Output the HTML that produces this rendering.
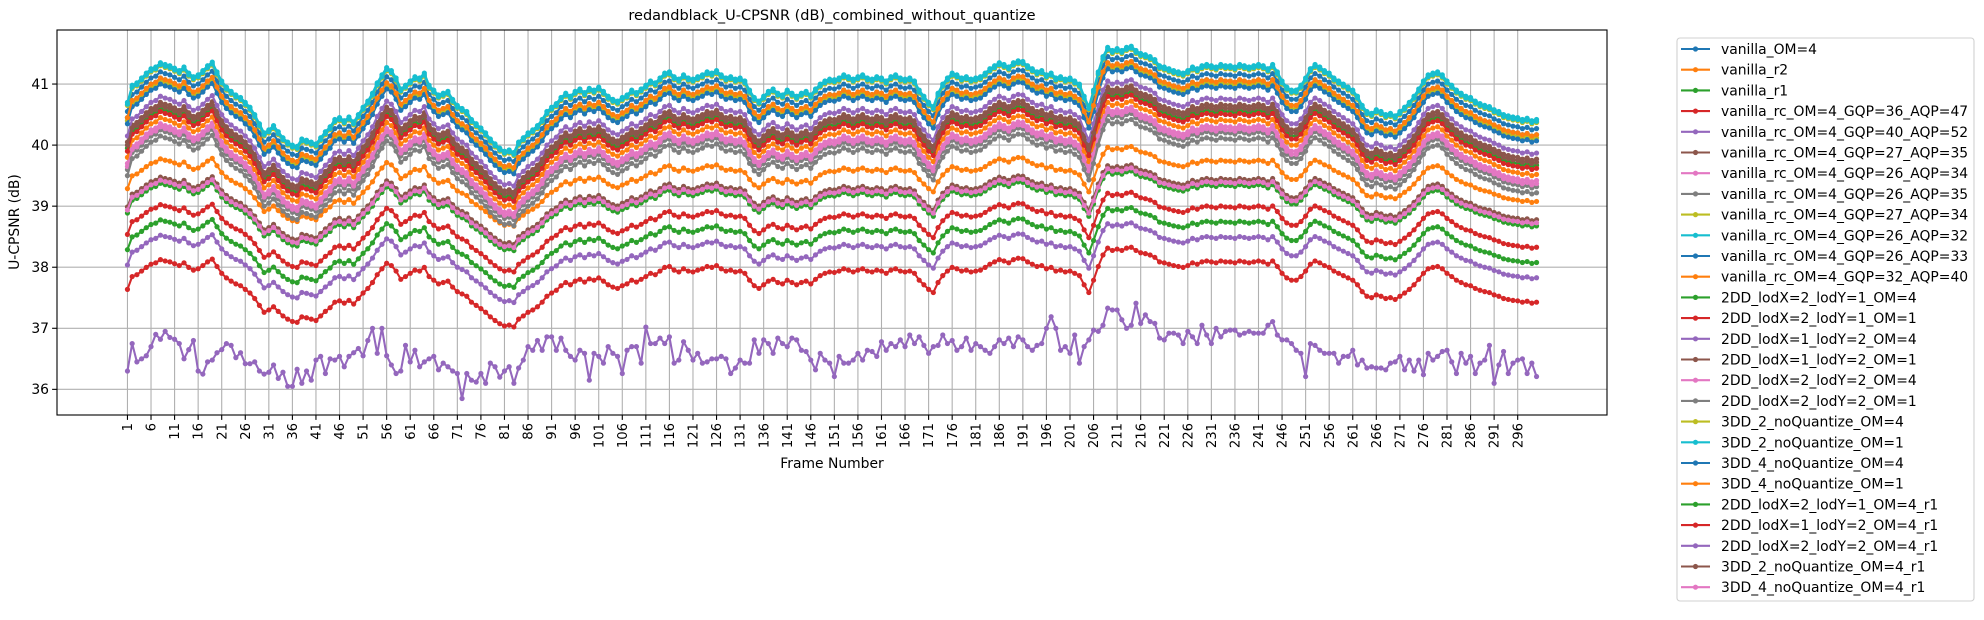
<!DOCTYPE html>
<html><head><meta charset="utf-8">
<style>
html,body{margin:0;padding:0;background:#fff;}
svg{display:block;font-family:"DejaVu Sans","Liberation Sans",sans-serif;}
</style></head>
<body>
<svg id="chart" width="1984" height="620" viewBox="0 0 1984 620" xmlns="http://www.w3.org/2000/svg">
<rect x="0" y="0" width="1984" height="620" fill="#fff"/>
<text x="832" y="20" text-anchor="middle" font-size="14.5" fill="#000">redandblack_U-CPSNR (dB)_combined_without_quantize</text>
<g id="grid"></g>
<g id="series"></g>
<rect x="57" y="30" width="1550" height="385" fill="none" stroke="#000" stroke-width="1.1"/>
<g id="axes"></g>
<text x="832" y="468" text-anchor="middle" font-size="13.9" fill="#000">Frame Number</text>
<text transform="translate(19,222) rotate(-90)" text-anchor="middle" font-size="13.9" fill="#000">U-CPSNR (dB)</text>
<g id="legend"></g>
</svg>
<script>
// ---- data ----
const seriesNames = ["vanilla_OM=4","vanilla_r2","vanilla_r1","vanilla_rc_OM=4_GQP=36_AQP=47","vanilla_rc_OM=4_GQP=40_AQP=52","vanilla_rc_OM=4_GQP=27_AQP=35","vanilla_rc_OM=4_GQP=26_AQP=34","vanilla_rc_OM=4_GQP=26_AQP=35","vanilla_rc_OM=4_GQP=27_AQP=34","vanilla_rc_OM=4_GQP=26_AQP=32","vanilla_rc_OM=4_GQP=26_AQP=33","vanilla_rc_OM=4_GQP=32_AQP=40","2DD_lodX=2_lodY=1_OM=4","2DD_lodX=2_lodY=1_OM=1","2DD_lodX=1_lodY=2_OM=4","2DD_lodX=1_lodY=2_OM=1","2DD_lodX=2_lodY=2_OM=4","2DD_lodX=2_lodY=2_OM=1","3DD_2_noQuantize_OM=4","3DD_2_noQuantize_OM=1","3DD_4_noQuantize_OM=4","3DD_4_noQuantize_OM=1","2DD_lodX=2_lodY=1_OM=4_r1","2DD_lodX=1_lodY=2_OM=4_r1","2DD_lodX=2_lodY=2_OM=4_r1","3DD_2_noQuantize_OM=4_r1","3DD_4_noQuantize_OM=4_r1"];
// reference profile (top series, dB per frame)
const topProfile = [
40.70,40.98,41.02,41.10,41.18,41.25,41.28,41.35,41.32,41.30,
41.26,41.22,41.28,41.18,41.12,41.15,41.22,41.30,41.36,41.20,
41.05,40.95,40.88,40.82,40.78,40.70,40.62,40.50,40.35,40.20,
40.25,40.32,40.22,40.12,40.05,40.00,39.98,40.10,40.08,40.05,
40.02,40.12,40.22,40.30,40.42,40.45,40.40,40.46,40.38,40.50,
40.62,40.72,40.85,41.02,41.15,41.27,41.22,41.10,40.92,40.98,
41.05,41.12,41.10,41.18,40.98,40.90,40.82,40.85,40.88,40.75,
40.65,40.60,40.55,40.42,40.35,40.28,40.20,40.10,40.02,39.95,
39.90,39.92,39.88,40.05,40.12,40.20,40.25,40.32,40.42,40.55,
40.62,40.68,40.78,40.85,40.80,40.88,40.92,40.86,40.93,40.90,
40.95,40.88,40.80,40.75,40.72,40.78,40.82,40.90,40.86,40.92,
40.98,41.05,41.02,41.10,41.18,41.20,41.12,41.08,41.15,41.10,
41.08,41.12,41.15,41.20,41.18,41.22,41.15,41.10,41.12,41.08,
41.10,41.05,40.90,40.78,40.72,40.80,40.88,40.92,40.85,40.82,
40.90,40.85,40.80,40.85,40.88,40.82,40.92,41.00,41.05,41.08,
41.07,41.10,41.15,41.12,41.08,41.12,41.15,41.10,41.08,41.12,
41.10,41.05,41.12,41.15,41.10,41.08,41.10,41.05,40.90,40.80,
40.70,40.63,40.85,41.00,41.10,41.18,41.15,41.10,41.12,41.08,
41.10,41.12,41.18,41.25,41.30,41.35,41.32,41.28,41.35,41.38,
41.37,41.30,41.25,41.20,41.22,41.15,41.18,41.10,41.12,41.08,
41.10,41.05,41.00,40.80,40.63,40.90,41.20,41.45,41.60,41.55,
41.58,41.55,41.60,41.62,41.55,41.50,41.48,41.45,41.40,41.30,
41.28,41.25,41.22,41.20,41.18,41.22,41.28,41.25,41.30,41.32,
41.30,41.28,41.32,41.30,41.30,41.28,41.32,41.30,41.28,41.30,
41.32,41.30,41.25,41.32,41.20,41.05,40.95,40.90,40.90,40.98,
41.10,41.25,41.32,41.28,41.22,41.18,41.10,41.05,41.00,40.95,
40.90,40.80,40.65,40.55,40.52,40.58,40.55,40.50,40.52,40.48,
40.55,40.62,40.70,40.80,40.92,41.05,41.15,41.18,41.20,41.15,
41.05,40.98,40.90,40.85,40.80,40.78,40.72,40.68,40.65,40.63,
40.58,40.55,40.50,40.48,40.46,40.45,40.42,40.44,40.40,40.42];
// offsets of each series from the profile (dB); null = has its own array
const seriesOffsets = [-0.15,-1.45,-2.45,-3.1,null,-0.65,-1.0,-1.1,-0.05,0,-0.25,-0.9,-0.75,-0.8,-0.55,-0.7,-1.05,-1.2,-0.3,-0.03,-0.35,-0.25,-1.85,-2.2,-2.7,-1.75,-1.8];
// amplitude of each series' swings relative to the profile
const seriesScale = [1,0.75,0.75,0.75,1,1,1,1,1,1,1,1,1,1,1,1,1,1,1,1,1,1,0.75,0.75,0.75,0.75,0.75];
const profileMean = 40.85;
// lowest series (vanilla_rc_OM=4_GQP=40_AQP=52)
const lowSeries = [
36.30,36.75,36.45,36.50,36.55,36.70,36.90,36.82,36.95,36.85,
36.82,36.75,36.50,36.65,36.80,36.30,36.25,36.45,36.48,36.60,
36.65,36.75,36.72,36.52,36.60,36.42,36.42,36.45,36.30,36.25,
36.28,36.40,36.18,36.28,36.05,36.05,36.33,36.10,36.30,36.15,
36.48,36.54,36.26,36.50,36.48,36.54,36.37,36.54,36.60,36.67,
36.55,36.80,37.00,36.59,37.00,36.55,36.40,36.26,36.30,36.72,
36.45,36.64,36.37,36.45,36.50,36.54,36.32,36.43,36.37,36.30,
36.26,35.85,36.26,36.15,36.12,36.26,36.10,36.43,36.37,36.20,
36.30,36.37,36.10,36.35,36.48,36.70,36.64,36.80,36.64,36.86,
36.86,36.64,36.84,36.64,36.54,36.48,36.64,36.59,36.15,36.59,
36.54,36.43,36.70,36.59,36.54,36.26,36.64,36.70,36.70,36.43,
37.02,36.75,36.75,36.84,36.75,36.86,36.43,36.48,36.78,36.64,
36.48,36.59,36.43,36.45,36.50,36.50,36.54,36.50,36.26,36.35,
36.48,36.43,36.43,36.81,36.59,36.81,36.75,36.59,36.84,36.75,
36.70,36.84,36.81,36.64,36.62,36.48,36.32,36.59,36.48,36.43,
36.21,36.54,36.43,36.43,36.48,36.59,36.48,36.64,36.62,36.54,
36.78,36.64,36.75,36.70,36.81,36.70,36.89,36.75,36.86,36.72,
36.59,36.70,36.72,36.89,36.75,36.80,36.64,36.70,36.84,36.64,
36.75,36.70,36.64,36.59,36.70,36.81,36.75,36.84,36.70,36.86,
36.81,36.70,36.64,36.72,36.75,37.00,37.19,37.00,36.64,36.70,
36.59,36.89,36.43,36.70,36.81,36.97,36.95,37.05,37.33,37.30,
37.30,37.14,37.00,37.05,37.41,37.08,37.22,37.11,37.08,36.84,
36.81,36.92,36.92,36.89,36.75,36.95,36.86,36.75,37.05,36.89,
36.75,37.00,36.86,36.95,36.97,36.97,36.89,36.92,36.95,36.92,
36.92,36.92,37.05,37.11,36.89,36.81,36.81,36.75,36.64,36.59,
36.21,36.75,36.72,36.64,36.59,36.59,36.59,36.43,36.54,36.54,
36.64,36.40,36.48,36.35,36.37,36.35,36.35,36.32,36.43,36.45,
36.54,36.32,36.48,36.30,36.48,36.24,36.59,36.48,36.54,36.62,
36.64,36.45,36.26,36.59,36.43,36.54,36.26,36.43,36.48,36.72,
36.10,36.40,36.62,36.26,36.43,36.48,36.50,36.26,36.43,36.21];
const yTicks = [36,37,38,39,40,41];
const xTickStep = 5;
const frameCount = 300;

// ---- layout ----
const colors = ["#1f77b4","#ff7f0e","#2ca02c","#d62728","#9467bd","#8c564b","#e377c2","#7f7f7f","#bcbd22","#17becf"];
const NS = "http://www.w3.org/2000/svg";
const PL=57, PR=1607, PT=30, PB=415;
const xMin = 1-(frameCount-1)*0.05, xMax = frameCount+(frameCount-1)*0.05;
const yMin = 35.58, yMax = 41.885;
function xs(f){return PL+(f-xMin)/(xMax-xMin)*(PR-PL);}
function ys(v){return PB-(v-yMin)/(yMax-yMin)*(PB-PT);}
function mk(tag,attrs,parent){const e=document.createElementNS(NS,tag);for(const k in attrs)e.setAttribute(k,attrs[k]);parent.appendChild(e);return e;}

const grid=document.getElementById('grid'), axes=document.getElementById('axes');
for(let f=1; f<=frameCount; f+=xTickStep){
  const x=xs(f);
  const gl=mk('line',{x1:x,x2:x,y1:PT,y2:PB,stroke:'#b0b0b0','stroke-width':1.1},grid);
  
  
  mk('line',{x1:x,x2:x,y1:PB,y2:PB+4.9,stroke:'#000','stroke-width':1.1},axes);
  const t=mk('text',{transform:`translate(${x+4.6},${PB+8}) rotate(-90)`,'text-anchor':'end','font-size':13.2,fill:'#000'},axes);
  t.textContent=String(f);
  
  
}
yTicks.forEach(v=>{
  const y=ys(v);
  const gl=mk('line',{x1:PL,x2:PR,y1:y,y2:y,stroke:'#b0b0b0','stroke-width':1.1},grid);
  
  
  mk('line',{x1:PL-4.9,x2:PL,y1:y,y2:y,stroke:'#000','stroke-width':1.1},axes);
  const t=mk('text',{x:PL-8,y:y+4.8,'text-anchor':'end','font-size':13.9,fill:'#000'},axes);
  t.textContent=String(v);
  
  
});

const sg=document.getElementById('series');
seriesNames.forEach((name,s)=>{
  const col=colors[s%10];
  const vals = seriesOffsets[s]===null ? lowSeries : topProfile.map(v=>profileMean+seriesScale[s]*(v-profileMean)+seriesOffsets[s]);
  const g=mk('g',{},sg);
  
  
  const pts=vals.map((v,i)=>xs(i+1).toFixed(2)+','+ys(v).toFixed(2)).join(' ');
  const pl=mk('polyline',{points:pts,fill:'none',stroke:col,'stroke-width':2.08,'stroke-linejoin':'round'},g);
  
  
  vals.forEach((v,i)=>{
    const c=mk('circle',{cx:xs(i+1).toFixed(2),cy:ys(v).toFixed(2),r:2.6,fill:col},g);
    
    
  });
});

const lg=document.getElementById('legend');
const LX=1677, LY=38, LW=297, LH=563, LS=20.7;
mk('rect',{x:LX,y:LY,width:LW,height:LH,rx:3,fill:'#fff','fill-opacity':0.8,stroke:'#d0d0d0','stroke-width':1.1},lg);
seriesNames.forEach((name,s)=>{
  const y=49+s*LS, col=colors[s%10];
  const e=mk('g',{},lg);
  
  
  mk('line',{x1:1681,x2:1710,y1:y,y2:y,stroke:col,'stroke-width':2.08},e);
  mk('circle',{cx:1695.5,cy:y,r:2.6,fill:col},e);
  const t=mk('text',{x:1721,y:y+5,'font-size':13.9,fill:'#000'},e);
  t.textContent=name;
});
</script>
</body></html>
